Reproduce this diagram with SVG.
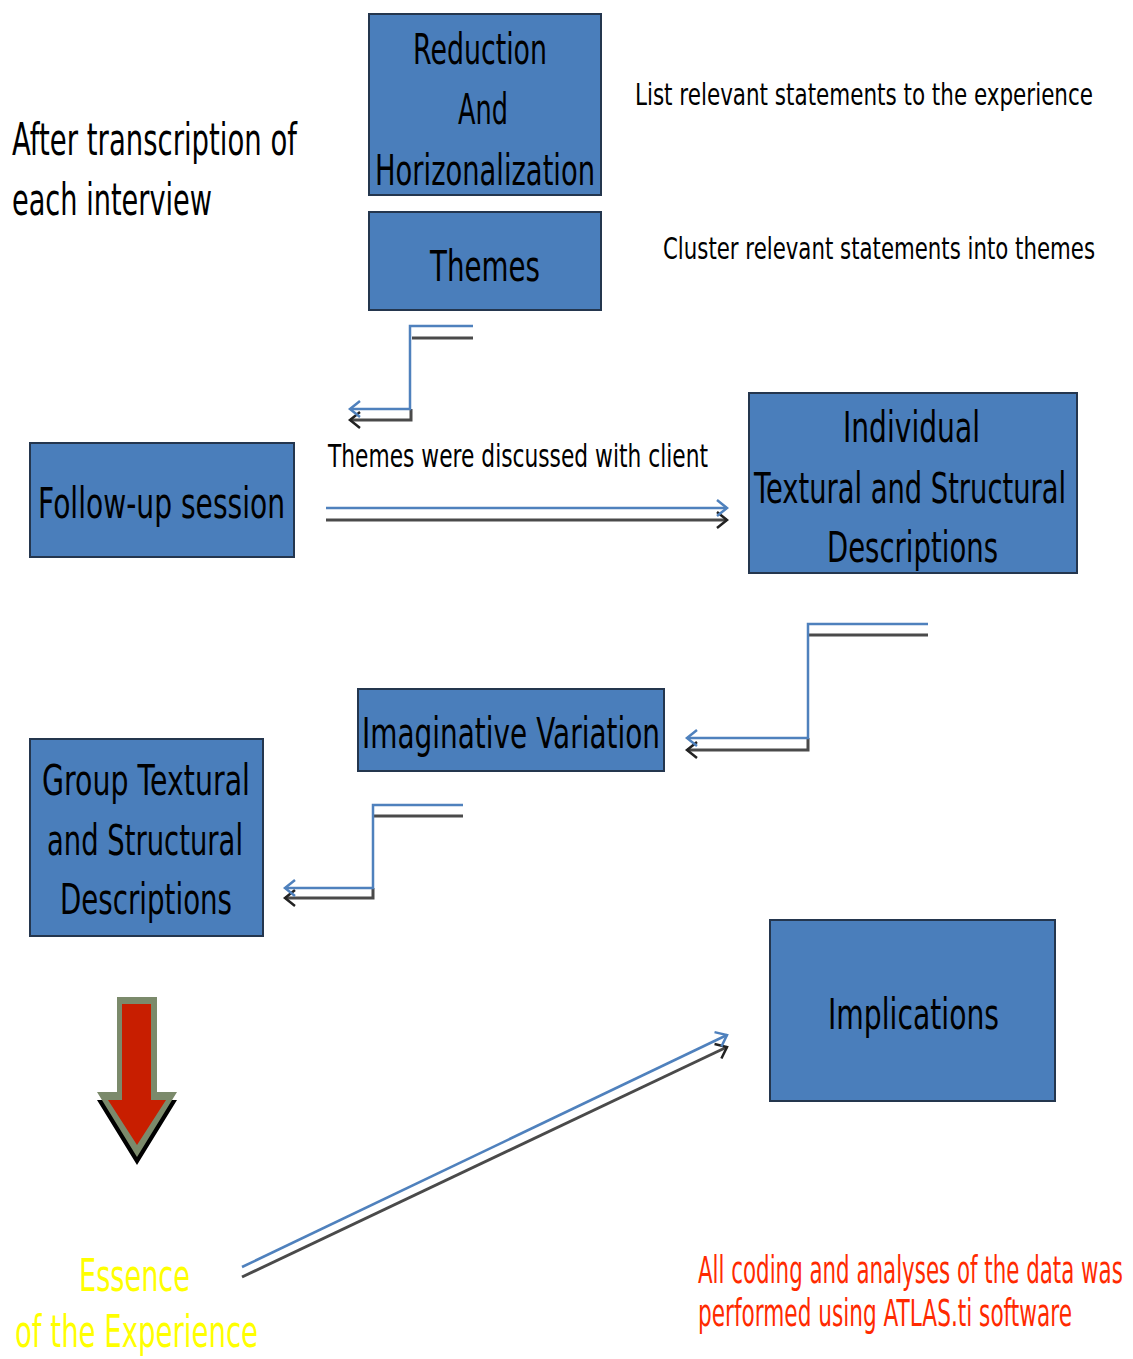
<svg xmlns="http://www.w3.org/2000/svg" width="1133" height="1359" viewBox="0 0 1133 1359">
<style>
.box{fill:#4a7ebb;stroke:#24364e;stroke-width:2}
.t{font-family:"DejaVu Sans","Liberation Sans",sans-serif;fill:#000}
.b{font-size:42px}
.blue{fill:none;stroke:#4f81bd;stroke-width:2.5}
.gray{fill:none;stroke:#4a4a4a;stroke-width:3}
</style>
<defs>
<marker id="ab" markerUnits="userSpaceOnUse" markerWidth="24" markerHeight="24" refX="12" refY="12" orient="auto" overflow="visible">
<path d="M2,4 L12,12 L2,20" fill="none" stroke="#4f81bd" stroke-width="2.5"/>
</marker>
<marker id="ag" markerUnits="userSpaceOnUse" markerWidth="24" markerHeight="24" refX="12" refY="12" orient="auto" overflow="visible">
<path d="M2,4 L12,12 L2,20" fill="none" stroke="#222" stroke-width="2.5"/>
</marker>
</defs>
<rect width="1133" height="1359" fill="#fff"/>

<g id="connectors">
<path class="gray" d="M473,338 H412 M411,409 V420 H350" marker-end="url(#ag)"/>
<path class="blue" d="M473,326 H410 V409 H350" marker-end="url(#ab)"/>
<path class="gray" d="M326,520 H727" marker-end="url(#ag)"/>
<path class="blue" d="M326,508 H727" marker-end="url(#ab)"/>
<path class="gray" d="M928,635 H809 M808,738 V750 H687" marker-end="url(#ag)"/>
<path class="blue" d="M928,624 H808 V738 H687" marker-end="url(#ab)"/>
<path class="gray" d="M463,816 H374 M373,888 V898 H285" marker-end="url(#ag)"/>
<path class="blue" d="M463,805 H373 V888 H285" marker-end="url(#ab)"/>
<path class="gray" d="M242,1277 L727,1047" marker-end="url(#ag)"/>
<path class="blue" d="M242,1267 L727,1035" marker-end="url(#ab)"/>
</g>

<g id="reduction">
<rect class="box" x="369" y="14" width="232" height="181"/>
<text class="t b" transform="translate(413,64) scale(0.6,1)" textLength="223.3" lengthAdjust="spacingAndGlyphs">Reduction</text>
<text class="t b" transform="translate(458,124) scale(0.6,1)" textLength="83.3" lengthAdjust="spacingAndGlyphs">And</text>
<text class="t b" transform="translate(375,185) scale(0.6,1)" textLength="366.7" lengthAdjust="spacingAndGlyphs">Horizonalization</text>
</g>

<g id="themes">
<rect class="box" x="369" y="212" width="232" height="98"/>
<text class="t b" transform="translate(430,281) scale(0.6,1)" textLength="183.3" lengthAdjust="spacingAndGlyphs">Themes</text>
</g>

<g id="followup">
<rect class="box" x="30" y="443" width="264" height="114"/>
<text class="t b" transform="translate(38,518) scale(0.6,1)" textLength="411.7" lengthAdjust="spacingAndGlyphs">Follow-up session</text>
</g>

<g id="individual">
<rect class="box" x="749" y="393" width="328" height="180"/>
<text class="t b" transform="translate(843,442) scale(0.6,1)" textLength="228.3" lengthAdjust="spacingAndGlyphs">Individual</text>
<text class="t b" transform="translate(754,503) scale(0.6,1)" textLength="520" lengthAdjust="spacingAndGlyphs">Textural and Structural</text>
<text class="t b" transform="translate(827,562) scale(0.6,1)" textLength="285" lengthAdjust="spacingAndGlyphs">Descriptions</text>
</g>

<g id="imaginative">
<rect class="box" x="358" y="689" width="306" height="82"/>
<text class="t b" transform="translate(362,748) scale(0.6,1)" textLength="496.7" lengthAdjust="spacingAndGlyphs">Imaginative Variation</text>
</g>

<g id="group">
<rect class="box" x="30" y="739" width="233" height="197"/>
<text class="t b" transform="translate(42,795) scale(0.6,1)" textLength="346.7" lengthAdjust="spacingAndGlyphs">Group Textural</text>
<text class="t b" transform="translate(47,855) scale(0.6,1)" textLength="326.7" lengthAdjust="spacingAndGlyphs">and Structural</text>
<text class="t b" transform="translate(60,914) scale(0.6,1)" textLength="286.7" lengthAdjust="spacingAndGlyphs">Descriptions</text>
</g>

<g id="implications">
<rect class="box" x="770" y="920" width="285" height="181"/>
<text class="t b" transform="translate(828,1029) scale(0.6,1)" textLength="285" lengthAdjust="spacingAndGlyphs">Implications</text>
</g>

<g id="essence-arrow">
<path d="M117,1005 H157 V1100 H177 L137,1165 L97,1100 H117 Z" fill="#000"/>
<path d="M117,997 H157 V1092 H177 L137,1157 L97,1092 H117 Z" fill="#7b8a6b"/>
<path d="M122,1004 H151 V1100 H166 L137,1145 L108,1100 H122 Z" fill="#c81e00"/>
</g>

<g id="labels">
<text class="t" font-size="45" transform="translate(12,155) scale(0.6,1)" textLength="475" lengthAdjust="spacingAndGlyphs">After transcription of</text>
<text class="t" font-size="45" transform="translate(12,215) scale(0.6,1)" textLength="333.3" lengthAdjust="spacingAndGlyphs">each interview</text>
<text class="t" font-size="30" transform="translate(635,105) scale(0.6,1)" textLength="763.3" lengthAdjust="spacingAndGlyphs">List relevant statements to the experience</text>
<text class="t" font-size="30" transform="translate(663,259) scale(0.6,1)" textLength="720" lengthAdjust="spacingAndGlyphs">Cluster relevant statements into themes</text>
<text class="t" font-size="32" transform="translate(328,467) scale(0.6,1)" textLength="633.3" lengthAdjust="spacingAndGlyphs">Themes were discussed with client</text>
<text class="t" font-size="44" transform="translate(79,1291) scale(0.6,1)" textLength="185" lengthAdjust="spacingAndGlyphs" style="fill:#ffff00">Essence</text>
<text class="t" font-size="44" transform="translate(15,1347) scale(0.6,1)" textLength="405" lengthAdjust="spacingAndGlyphs" style="fill:#ffff00">of the Experience</text>
<text class="t" font-size="37" transform="translate(698,1283) scale(0.6,1)" textLength="708" lengthAdjust="spacingAndGlyphs" style="fill:#ff2a00">All coding and analyses of the data was</text>
<text class="t" font-size="37" transform="translate(698,1326) scale(0.6,1)" textLength="623.3" lengthAdjust="spacingAndGlyphs" style="fill:#ff2a00">performed using ATLAS.ti software</text>
</g>
</svg>
